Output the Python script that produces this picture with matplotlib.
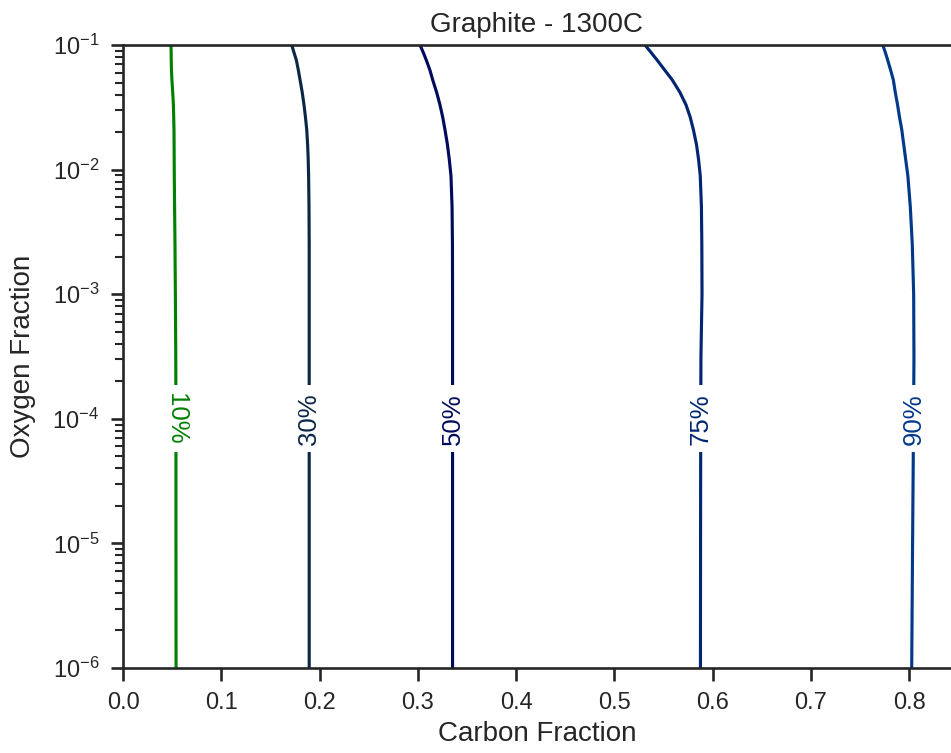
import numpy as np
import matplotlib
matplotlib.use('Agg')
import matplotlib.pyplot as plt
import seaborn as sns

# ---- data ----
oxygen_log = [-1.0, -1.06, -1.12, -1.2, -1.28, -1.38, -1.48, -1.58, -1.68, -1.8,
              -1.92, -2.05, -2.3, -2.6, -3.0, -3.5, -4.0, -5.0, -6.0]
carbon_10 = [0.0489, 0.0490, 0.0491, 0.0493, 0.0498, 0.0506, 0.0513, 0.0516, 0.0519, 0.0520,
             0.0521, 0.0522, 0.0525, 0.0529, 0.0533, 0.0537, 0.0539, 0.0539, 0.0540]
carbon_30 = [0.1717, 0.1740, 0.1764, 0.1784, 0.1802, 0.1824, 0.1842, 0.1857, 0.1870, 0.1879,
             0.1885, 0.1889, 0.1893, 0.1895, 0.1895, 0.1895, 0.1895, 0.1895, 0.1895]
carbon_50 = [0.3023, 0.3056, 0.3086, 0.3123, 0.3152, 0.3192, 0.3226, 0.3254, 0.3277, 0.3302,
             0.3321, 0.3338, 0.3349, 0.3353, 0.3354, 0.3354, 0.3354, 0.3354, 0.3354]
carbon_75 = [0.5313, 0.5374, 0.5435, 0.5512, 0.5590, 0.5668, 0.5730, 0.5773, 0.5805, 0.5837,
             0.5858, 0.5875, 0.5887, 0.5891, 0.5893, 0.5882, 0.5880, 0.5878, 0.5877]
carbon_90 = [0.7732, 0.7759, 0.7782, 0.7812, 0.7840, 0.7860, 0.7883, 0.7903, 0.7926, 0.7946,
             0.7966, 0.7988, 0.8013, 0.8033, 0.8047, 0.8050, 0.8046, 0.8036, 0.8027]
level_labels = ['10%', '30%', '50%', '75%', '90%']
level_colors = ['#008000', '#0b2748', '#000b5c', '#002572', '#00388a']
label_rotation = [270, 90, 90, 90, 90]
label_y = 1e-4
x_ticks = [0.0, 0.1, 0.2, 0.3, 0.4, 0.5, 0.6, 0.7, 0.8]

sns.set_theme(context='talk', style='ticks')
plt.rcParams['font.family'] = ['Liberation Sans', 'DejaVu Sans']
plt.rcParams.update({
    'axes.linewidth': 1.9,
    'xtick.major.size': 9, 'ytick.major.size': 9,
    'xtick.minor.size': 6, 'ytick.minor.size': 6,
    'xtick.major.width': 1.9, 'ytick.major.width': 1.9,
    'xtick.minor.width': 1.5, 'ytick.minor.width': 1.5,
    'xtick.major.pad': 8.5, 'ytick.major.pad': 8,
    'xtick.labelsize': 17, 'ytick.labelsize': 17,
})

fig = plt.figure(figsize=(9.51, 7.53), dpi=100)
ax = fig.add_axes([123 / 951, 1 - 668 / 753, 828 / 951, 623 / 753])

oxygen = 10.0 ** np.array(oxygen_log)
curves = [carbon_10, carbon_30, carbon_50, carbon_75, carbon_90]
for xs, lab, col, rot in zip(curves, level_labels, level_colors, label_rotation):
    ax.plot(xs, oxygen, color=col, lw=2.25, solid_capstyle='butt')
    xl = float(np.interp(np.log10(label_y), oxygen_log[::-1], xs[::-1]))
    ax.text(xl, label_y, lab, color=col, fontsize=18.5, rotation=rot,
            ha='center', va='center', rotation_mode='anchor',
            bbox=dict(boxstyle='square,pad=0.3', fc='white', ec='none'))

ax.set_yscale('log')
ax.set_ylim(1e-6, 1e-1)
ax.set_xlim(0, 0.8427)
ax.set_xticks(x_ticks)
ax.spines['right'].set_visible(False)
ax.set_xlabel('Carbon Fraction', fontsize=20, labelpad=5)
ax.set_ylabel('Oxygen Fraction', fontsize=20, labelpad=12)
ax.set_title('Graphite - 1300C', fontsize=20, pad=9)

fig.savefig('out.png', dpi=100)
